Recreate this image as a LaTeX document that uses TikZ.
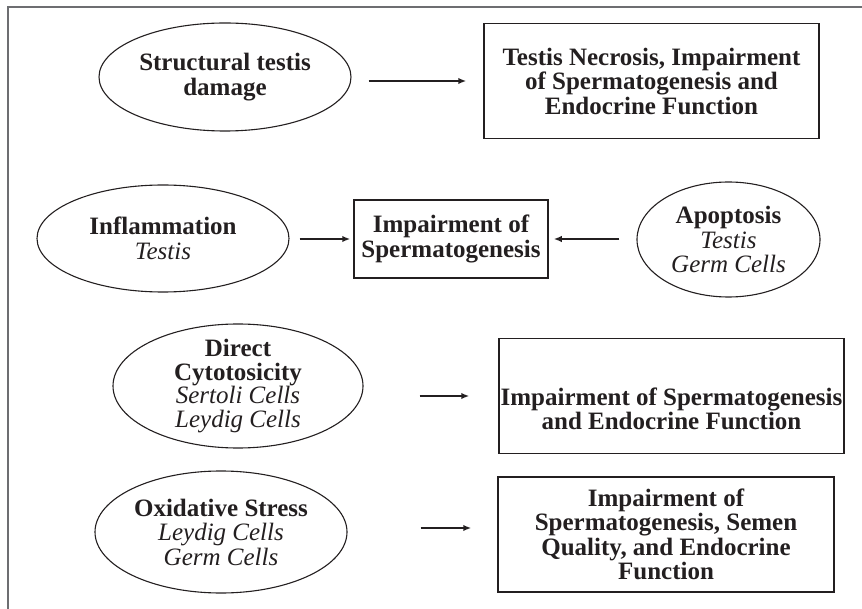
\documentclass[tikz,border=0pt]{standalone}
\usepackage{fontspec}
\setmainfont{Liberation Serif}
\usetikzlibrary{shapes.geometric,arrows.meta}
\definecolor{ink}{HTML}{231F20}
\definecolor{rim}{HTML}{6D6E71}
\newcommand{\tissue}[1]{{\mdseries\itshape #1}}
\begin{document}
\begin{tikzpicture}[x=1pt, y=-1pt, every node/.style={text=ink, align=center, font=\fontsize{25}{24.5}\selectfont\bfseries}, cause/.style={ellipse, draw=ink, line width=1.1pt, inner sep=-10pt}, effect/.style={rectangle, draw=ink, line width=1.5pt, inner sep=0pt}, leads/.style={draw=ink, line width=2pt, -{Latex[length=8pt, width=6.5pt]}}]
	\useasboundingbox (0,0) rectangle (862,609);
	\draw[rim, line width=2pt] (7.5,609) -- (7.5,7) -- (862,7);
		% first row
		\node[cause, minimum width=252pt, minimum height=108pt] (damage) at (225,77) {Structural testis\\damage};
		\node[effect, minimum width=335pt, minimum height=115pt] (necrosis) at (651.5,81) {Testis Necrosis, Impairment\\of Spermatogenesis and\\Endocrine Function};
		% second row
		\node[cause, minimum width=252pt, minimum height=107pt] (inflam) at (163,238.5) {Inflammation\\\tissue{Testis}};
		\node[effect, minimum width=194pt, minimum height=78pt] (spermimp) at (451,239) {Impairment of\\Spermatogenesis};
		\node[cause, minimum width=183pt, minimum height=115pt] (apoptosis) at (728.5,239.5) {Apoptosis\\\tissue{Testis}\\\tissue{Germ Cells}};
		% third row
		\node[cause, minimum width=250pt, minimum height=124pt, font=\fontsize{25}{23.5}\selectfont\bfseries] (cyto) at (238,386) {Direct\\Cytotosicity\\\tissue{Sertoli Cells}\\\tissue{Leydig Cells}};
		\node[effect, minimum width=345pt, minimum height=115pt, font=\fontsize{25}{22.5}\selectfont\bfseries] (cytoeff) at (671.5,396) {\rule{0pt}{44pt}Impairment of Spermatogenesis\\and Endocrine Function};
		% fourth row
		\node[cause, minimum width=252pt, minimum height=122pt] (oxid) at (221,532) {Oxidative Stress\\\tissue{Leydig Cells}\\\tissue{Germ Cells}};
		\node[effect, minimum width=336pt, minimum height=115pt] (oxeff) at (666,534.5) {Impairment of\\Spermatogenesis, Semen\\Quality, and Endocrine\\Function};
	\draw[leads, shorten <=17pt, shorten >=17pt] (damage.east |- necrosis.west) -- (necrosis.west);
	\draw[leads, shorten <=10pt, shorten >=3pt] (inflam.east |- spermimp.west) -- (spermimp.west);
	\draw[leads, shorten <=17pt, shorten >=5pt] (apoptosis.west |- spermimp.east) -- (spermimp.east);
	\draw[leads, shorten <=56pt, shorten >=29pt] (cyto.east |- cytoeff.west) -- (cytoeff.west);
	\draw[leads, shorten <=73pt, shorten >=26pt] ([yshift=4pt]oxid.east) -- ([yshift=4pt]oxid.east -| oxeff.west);
\end{tikzpicture}
\end{document}
